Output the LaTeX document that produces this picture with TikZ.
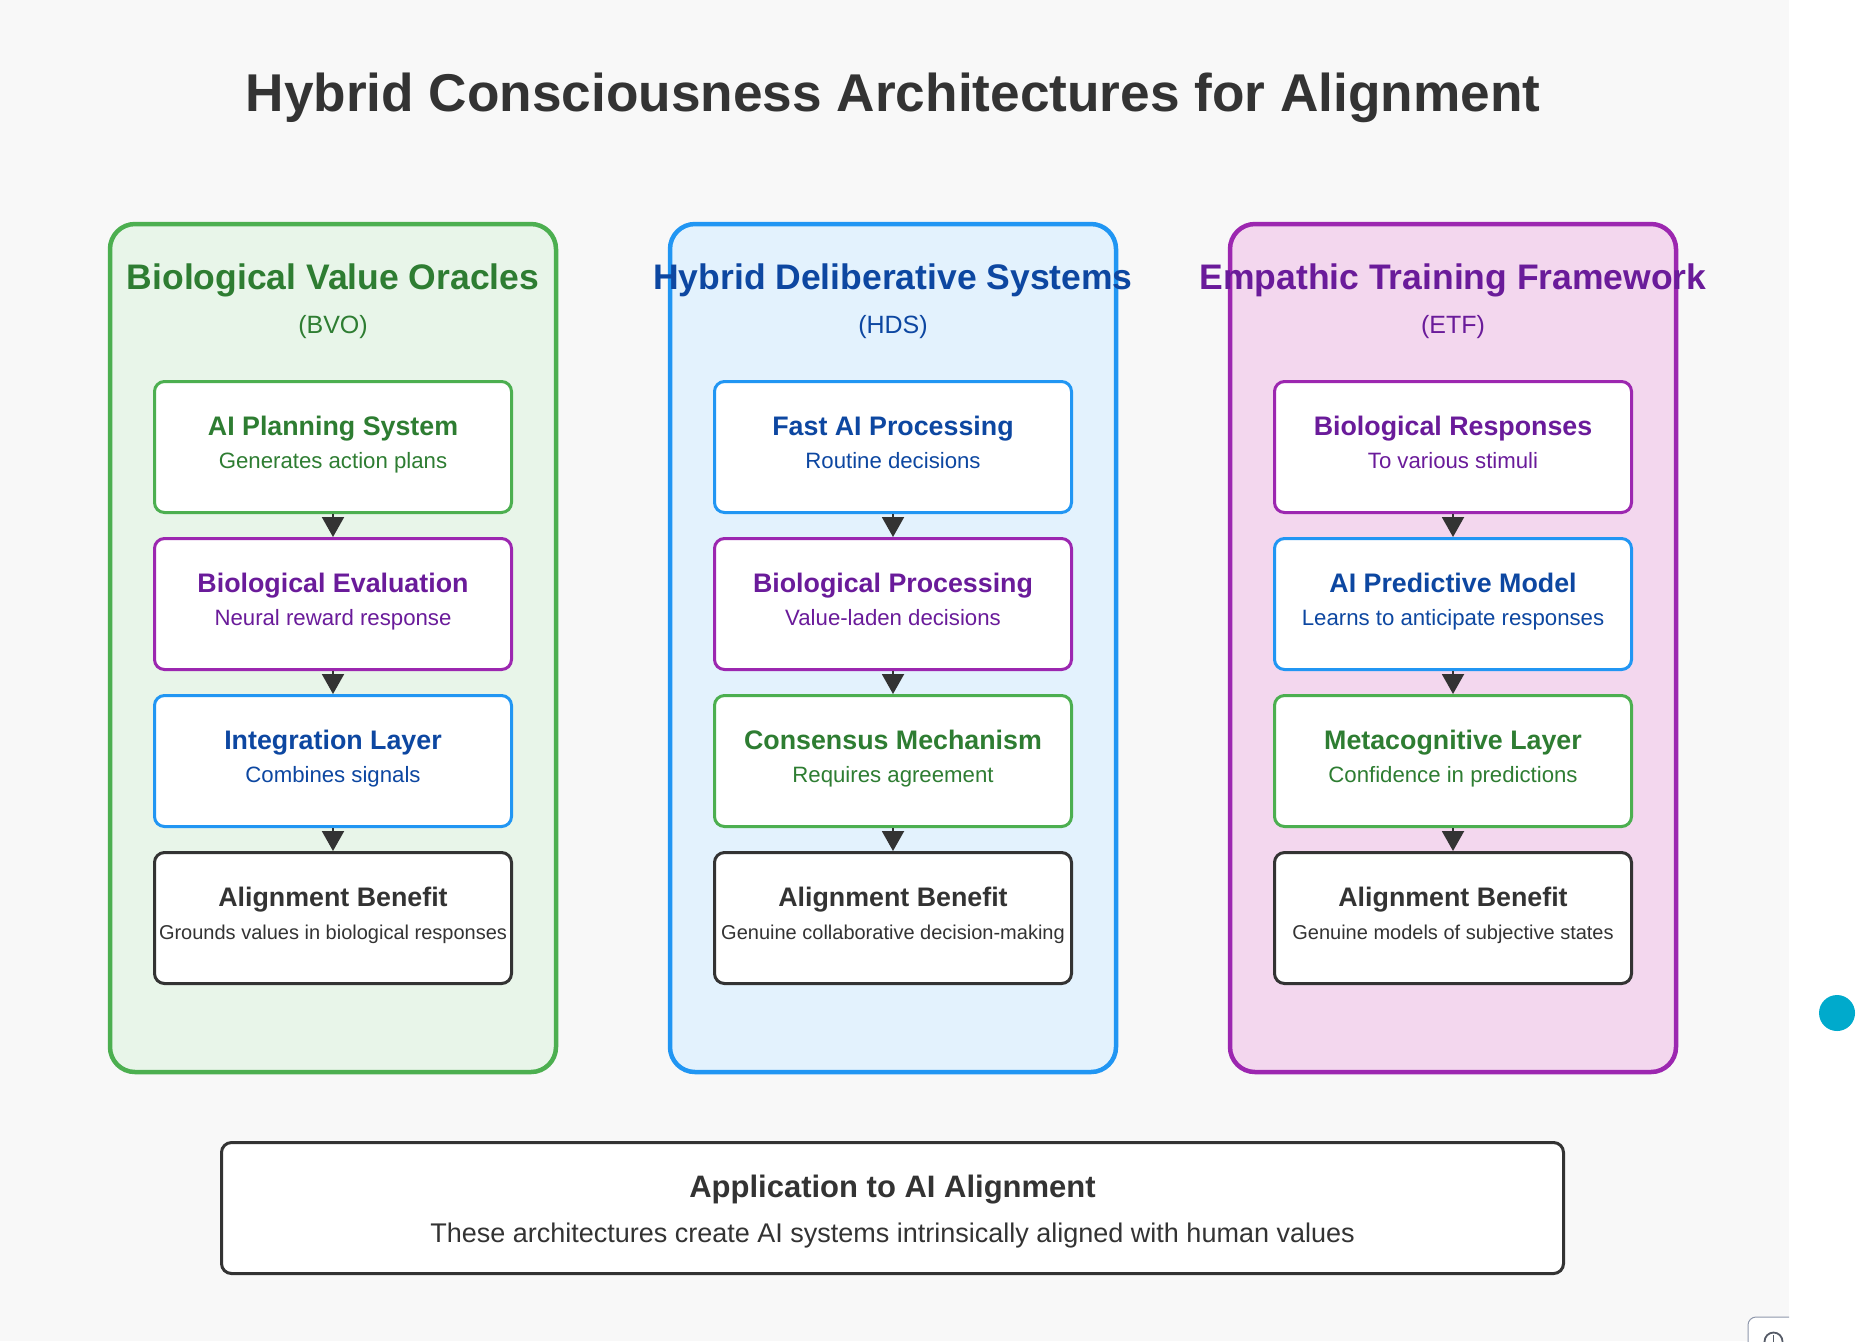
\documentclass[tikz,border=0pt]{standalone}
\usepackage{fontspec}
\setmainfont{Liberation Sans}
\usetikzlibrary{calc}
\usetikzlibrary{positioning}
\usetikzlibrary{arrows.meta}

\definecolor{bggray}{HTML}{F8F8F8}
\definecolor{darkline}{HTML}{333333}
\definecolor{greenline}{HTML}{4CAF50}
\definecolor{greenfill}{HTML}{E8F5E9}
\definecolor{greentext}{HTML}{2E7D32}
\definecolor{blueline}{HTML}{2196F3}
\definecolor{bluefill}{HTML}{E3F2FD}
\definecolor{bluetext}{HTML}{0D47A1}
\definecolor{purpleline}{HTML}{9C27B0}
\definecolor{purplefill}{HTML}{F3D7EE}
\definecolor{purpletext}{HTML}{6A1B9A}
\definecolor{dotcyan}{HTML}{00AACC}
\definecolor{btnline}{HTML}{8E97AB}

\begin{document}
\begin{tikzpicture}[x=0.5pt,y=-0.5pt]
\tikzstyle{panel}=[draw, line width=2.25pt, rounded corners=12.5pt, 
minimum width=223pt, minimum height=424pt, inner sep=0pt]
\tikzstyle{stage}=[draw, fill=white, line width=1.5pt, rounded corners=5pt, 
minimum width=178.5pt, minimum height=65.5pt, inner sep=0pt]
\tikzstyle{heading}=[anchor=base, inner sep=0pt, 
font=\fontsize{17.75}{20}\selectfont\bfseries]
\tikzstyle{abbrev}=[anchor=base, inner sep=0pt, font=\fontsize{12.5}{15}\selectfont]
\tikzstyle{stagetitle}=[anchor=base, inner sep=0pt, 
font=\fontsize{13.4}{16}\selectfont\bfseries]
\tikzstyle{stagetext}=[anchor=base, inner sep=0pt, font=\fontsize{11.1}{13}\selectfont]
\tikzstyle{benefittext}=[anchor=base, inner sep=0pt, font=\fontsize{10}{12}\selectfont]
\tikzstyle{flow}=[darkline, line width=1pt, -{Triangle[width=11pt,length=10pt]}]
	\useasboundingbox (0,0) rectangle (1856,1341);
	\fill [bggray] (0,0) rectangle (1789,1341);
	\fill [white] (1789,0) rectangle (1856,1341);
	
	\node [anchor=base, inner sep=0pt, darkline, 
	font=\fontsize{26.6}{32}\selectfont\bfseries] (title) at (893,111) 
	{Hybrid Consciousness Architectures for Alignment};
	
	% panels
	\node [panel, draw=greenline, fill=greenfill] (bvo) at (333,648) {};
	\node [panel, draw=blueline, fill=bluefill] (hds) at (893,648) {};
	\node [panel, draw=purpleline, fill=purplefill] (etf) at (1453,648) {};
	\node [heading, greentext] (bvoT) at ($(bvo.north)+(0,68)$) 
	{Biological Value Oracles};
	\node [abbrev, greentext] (bvoA) at ($(bvo.north)+(0,112)$) {(BVO)};
	\node [heading, bluetext] (hdsT) at ($(hds.north)+(0,68)$) 
	{Hybrid Deliberative Systems};
	\node [abbrev, bluetext] (hdsA) at ($(hds.north)+(0,112)$) {(HDS)};
	\node [heading, purpletext] (etfT) at ($(etf.north)+(0,68)$) 
	{Empathic Training Framework};
	\node [abbrev, purpletext] (etfA) at ($(etf.north)+(0,112)$) {(ETF)};
	
	% BVO stages
	\node [stage, draw=greenline] (bvo1) at (333,447) {};
	\node [stage, draw=purpleline, below = 11.5pt of bvo1] (bvo2) {};
	\node [stage, draw=blueline, below = 11.5pt of bvo2] (bvo3) {};
	\node [stage, draw=darkline, below = 11.5pt of bvo3] (bvo4) {};
	\node [stagetitle, greentext] (bvo1t) at ($(bvo1.north)+(0,55)$) 
	{AI Planning System};
	\node [stagetext, greentext] (bvo1s) at ($(bvo1.north)+(0,88)$) 
	{Generates action plans};
	\node [stagetitle, purpletext] (bvo2t) at ($(bvo2.north)+(0,55)$) 
	{Biological Evaluation};
	\node [stagetext, purpletext] (bvo2s) at ($(bvo2.north)+(0,88)$) 
	{Neural reward response};
	\node [stagetitle, bluetext] (bvo3t) at ($(bvo3.north)+(0,55)$) 
	{Integration Layer};
	\node [stagetext, bluetext] (bvo3s) at ($(bvo3.north)+(0,88)$) 
	{Combines signals};
	\node [stagetitle, darkline] (bvo4t) at ($(bvo4.north)+(0,55)$) 
	{Alignment Benefit};
	\node [benefittext, darkline] (bvo4s) at ($(bvo4.north)+(0,88)$) 
	{Grounds values in biological responses};
	\draw [flow] (bvo1) -- (bvo2);
	\draw [flow] (bvo2) -- (bvo3);
	\draw [flow] (bvo3) -- (bvo4);
	
	% HDS stages
	\node [stage, draw=blueline] (hds1) at (893,447) {};
	\node [stage, draw=purpleline, below = 11.5pt of hds1] (hds2) {};
	\node [stage, draw=greenline, below = 11.5pt of hds2] (hds3) {};
	\node [stage, draw=darkline, below = 11.5pt of hds3] (hds4) {};
	\node [stagetitle, bluetext] (hds1t) at ($(hds1.north)+(0,55)$) 
	{Fast AI Processing};
	\node [stagetext, bluetext] (hds1s) at ($(hds1.north)+(0,88)$) 
	{Routine decisions};
	\node [stagetitle, purpletext] (hds2t) at ($(hds2.north)+(0,55)$) 
	{Biological Processing};
	\node [stagetext, purpletext] (hds2s) at ($(hds2.north)+(0,88)$) 
	{Value-laden decisions};
	\node [stagetitle, greentext] (hds3t) at ($(hds3.north)+(0,55)$) 
	{Consensus Mechanism};
	\node [stagetext, greentext] (hds3s) at ($(hds3.north)+(0,88)$) 
	{Requires agreement};
	\node [stagetitle, darkline] (hds4t) at ($(hds4.north)+(0,55)$) 
	{Alignment Benefit};
	\node [benefittext, darkline] (hds4s) at ($(hds4.north)+(0,88)$) 
	{Genuine collaborative decision-making};
	\draw [flow] (hds1) -- (hds2);
	\draw [flow] (hds2) -- (hds3);
	\draw [flow] (hds3) -- (hds4);
	
	% ETF stages
	\node [stage, draw=purpleline] (etf1) at (1453,447) {};
	\node [stage, draw=blueline, below = 11.5pt of etf1] (etf2) {};
	\node [stage, draw=greenline, below = 11.5pt of etf2] (etf3) {};
	\node [stage, draw=darkline, below = 11.5pt of etf3] (etf4) {};
	\node [stagetitle, purpletext] (etf1t) at ($(etf1.north)+(0,55)$) 
	{Biological Responses};
	\node [stagetext, purpletext] (etf1s) at ($(etf1.north)+(0,88)$) 
	{To various stimuli};
	\node [stagetitle, bluetext] (etf2t) at ($(etf2.north)+(0,55)$) 
	{AI Predictive Model};
	\node [stagetext, bluetext] (etf2s) at ($(etf2.north)+(0,88)$) 
	{Learns to anticipate responses};
	\node [stagetitle, greentext] (etf3t) at ($(etf3.north)+(0,55)$) 
	{Metacognitive Layer};
	\node [stagetext, greentext] (etf3s) at ($(etf3.north)+(0,88)$) 
	{Confidence in predictions};
	\node [stagetitle, darkline] (etf4t) at ($(etf4.north)+(0,55)$) 
	{Alignment Benefit};
	\node [benefittext, darkline] (etf4s) at ($(etf4.north)+(0,88)$) 
	{Genuine models of subjective states};
	\draw [flow] (etf1) -- (etf2);
	\draw [flow] (etf2) -- (etf3);
	\draw [flow] (etf3) -- (etf4);
	
	% application
	\node [stage, draw=darkline, minimum width=671pt] (app) at (892.5,1208) {};
	\node [anchor=base, inner sep=0pt, darkline, 
	font=\fontsize{15.5}{18}\selectfont\bfseries] (appT) at ($(app.north)+(0,56)$) 
	{Application to AI Alignment};
	\node [anchor=base, inner sep=0pt, darkline, 
	font=\fontsize{13.5}{16}\selectfont] (appS) at ($(app.north)+(0,101)$) 
	{These architectures create AI systems intrinsically aligned with human values};
	
	% page widgets
	\fill [dotcyan] (1837,1013) circle [radius=9pt];
	\begin{scope}
	\clip (0,0) rectangle (1789,1341);
	\draw [btnline, fill=white, line width=0.5pt, rounded corners=4pt] 
	(1748,1317) rectangle (1830,1400);
	\draw [btnline!60!black, line width=0.9pt] (1773.5,1341.5) circle [radius=4.5pt];
	\draw [btnline!60!black, line width=0.9pt] (1773.5,1335) -- (1773.5,1341.5);
	\end{scope}
\end{tikzpicture}
\end{document}
